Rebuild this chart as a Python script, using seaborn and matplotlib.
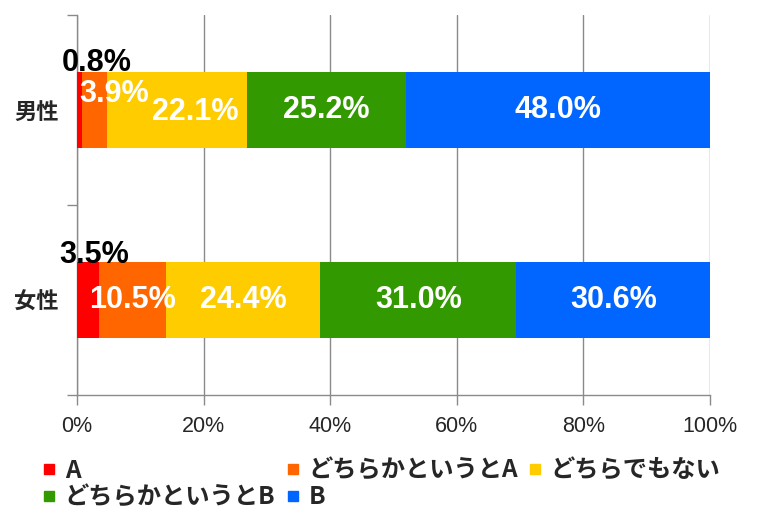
import matplotlib
matplotlib.use("Agg")
import matplotlib.pyplot as plt
from matplotlib.lines import Line2D
from matplotlib.font_manager import FontProperties
import numpy as np
import pandas as pd
import seaborn as sns

# ---- data ----
categories = ["男性", "女性"]
series_names = ["A", "どちらかというとA", "どちらでもない", "どちらかというとB", "B"]
vals_a = [0.8, 3.5]
vals_lean_a = [3.9, 10.5]
vals_neutral = [22.1, 24.4]
vals_lean_b = [25.2, 31.0]
vals_b = [48.0, 30.6]
x_ticks = [0, 20, 40, 60, 80, 100]
x_tick_labels = ["0%", "20%", "40%", "60%", "80%", "100%"]

series_values = [vals_a, vals_lean_a, vals_neutral, vals_lean_b, vals_b]
colors = ["#FF0000", "#FF6600", "#FFCC00", "#339900", "#0066FF"]

sns.set_style("white")
plt.rcParams["font.family"] = ["Noto Sans CJK JP", "DejaVu Sans"]
latin = ["Liberation Sans", "DejaVu Sans"]

df = pd.DataFrame({"category": categories})
cum = np.zeros(len(categories))
cum_cols = []
for i, v in enumerate(series_values):
    cum = cum + np.array(v)
    col = f"cum{i}"
    df[col] = cum
    cum_cols.append(col)

fig = plt.figure(figsize=(7.66, 5.22), dpi=100)
ax = fig.add_axes([77 / 766, 127 / 522, 633 / 766, 380 / 522])

# draw cumulative bars from the longest to the shortest
for i in reversed(range(len(series_values))):
    sns.barplot(data=df, x=cum_cols[i], y="category", order=categories,
                orient="h", color=colors[i], saturation=1, width=0.4,
                linewidth=0, edgecolor="none", ax=ax, zorder=3)

ax.set_xlim(0, 100)
ax.set_ylim(1.5, -0.5)
ax.set_xlabel("")
ax.set_ylabel("")

grid_c = "#8a8a8a"
ax.set_xticks(x_ticks)
ax.set_xticklabels(x_tick_labels, family=latin, fontsize=15.5)
ax.xaxis.grid(True, color=grid_c, linewidth=1)
ax.yaxis.grid(False)
ax.set_axisbelow(True)
ax.tick_params(axis="x", length=7, width=1, color=grid_c, pad=8, direction="out", bottom=True)

ax.set_yticks([0, 1])
ax.set_yticklabels(categories, fontsize=16, fontweight="bold")
ax.set_yticks([-0.5, 0.5, 1.5], minor=True)
ax.tick_params(axis="y", which="major", length=0, pad=13, left=True)
ax.tick_params(axis="y", which="minor", length=7, width=1, color=grid_c, left=True)

for s in ["top", "right"]:
    ax.spines[s].set_visible(False)
for s in ["left", "bottom"]:
    ax.spines[s].set_color(grid_c)
    ax.spines[s].set_linewidth(1)

# ---- value labels ----
px = 0.72  # points per pixel at 100 dpi
label_offsets = {(0, 0): (17, -47), (1, 0): (20, -16), (2, 0): (19, 2),
                 (0, 1): (6, -45)}
for j, cat in enumerate(categories):
    start = 0.0
    for i, v in enumerate(series_values):
        val = v[j]
        cx = start + val / 2
        start += val
        dx, dy = label_offsets.get((i, j), (0, 0))
        color = "black" if i == 0 else "white"
        ax.annotate(f"{val:.1f}%", xy=(cx, j), xytext=(dx * px, -dy * px),
                    textcoords="offset points", ha="center", va="center",
                    color=color, fontsize=22, fontweight="bold",
                    family=latin, zorder=5)

# ---- legend (row-wise order) ----
handles = [Line2D([], [], marker="s", color=c, linestyle="none", markersize=7) for c in colors]
order = [0, 3, 1, 4, 2]
fig.legend([handles[k] for k in order], [series_names[k] for k in order],
           ncol=3, loc="upper left", bbox_to_anchor=(43 / 766, 1 - 459 / 522),
           frameon=False,
           prop=FontProperties(family=["Noto Sans CJK JP", "DejaVu Sans"], size=17.5, weight="bold"),
           handlelength=0.5, handletextpad=0.4, columnspacing=0.45,
           labelspacing=0.1, borderpad=0, borderaxespad=0)

fig.savefig("out.png", dpi=100)
